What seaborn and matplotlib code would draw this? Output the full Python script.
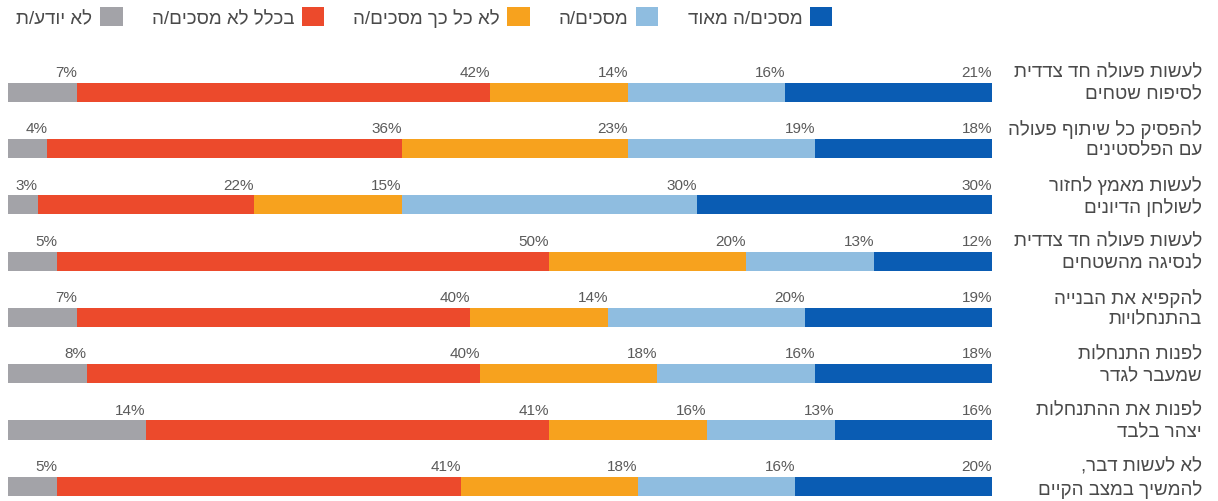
import matplotlib
matplotlib.use('Agg')
import matplotlib.pyplot as plt
from matplotlib.patches import Patch
import pandas as pd
import seaborn as sns

# statements, two lines each (Hebrew, logical order)
line1 = ['לעשות פעולה חד צדדית', 'להפסיק כל שיתוף פעולה', 'לעשות מאמץ לחזור',
         'לעשות פעולה חד צדדית', 'להקפיא את הבנייה', 'לפנות התנחלות',
         'לפנות את ההתנחלות', 'לא לעשות דבר,']
line2 = ['לסיפוח שטחים', 'עם הפלסטינים', 'לשולחן הדיונים', 'לנסיגה מהשטחים',
         'בהתנחלויות', 'שמעבר לגדר', 'יצהר בלבד', 'להמשיך במצב הקיים']

series_names = ['מסכים/ה מאוד', 'מסכים/ה', 'לא כל כך מסכים/ה', 'בכלל לא מסכים/ה', 'לא יודע/ת']
strongly_agree = [21, 18, 30, 12, 19, 18, 16, 20]
agree = [16, 19, 30, 13, 20, 16, 13, 16]
not_really = [14, 23, 15, 20, 14, 18, 16, 18]
strongly_disagree = [42, 36, 22, 50, 40, 40, 41, 41]
dont_know = [7, 4, 3, 5, 7, 8, 14, 5]

colors = ['#0a5cb3', '#8fbde0', '#f7a21e', '#ec4a2c', '#a3a3a8']


def rtl(s):
    # no bidi in matplotlib -> hand it the visual order
    return s[::-1]


sns.set_style('white')
plt.rcParams['font.family'] = ['Liberation Sans', 'DejaVu Sans']

series = [strongly_agree, agree, not_really, strongly_disagree, dont_know]
n = len(line1)
df = pd.DataFrame({'q': [f'q{i}' for i in range(n)]})
cum = [0] * n
starts = []
for name, vals in zip(series_names, series):
    starts.append(cum)
    cum = [c + v for c, v in zip(cum, vals)]
    df[name] = cum

fig = plt.figure(figsize=(12.18, 5.02), dpi=100)
ax = fig.add_axes([8 / 1218, 0, 984 / 1218, 437 / 502])

# layered stacking: widest cumulative bar first
for name, color in reversed(list(zip(series_names, colors))):
    sns.barplot(data=df, y='q', x=name, color=color, orient='h', width=0.34,
                saturation=1, linewidth=0, ax=ax)

ax.set_xlim(100, 0)
ax.set_ylim(7.26, -0.5)
ax.axis('off')

for k, vals in enumerate(series):
    for i, v in enumerate(vals):
        ax.text(starts[k][i], i - 0.36, f'{v}%', ha='right', va='center',
                fontsize=11, color='#5a5a5a')

tr = ax.get_yaxis_transform()
for i in range(n):
    ax.text(1.2135, i - 0.36, rtl(line1[i]), ha='right', va='center',
            fontsize=13.5, color='#4a4a4a', transform=tr)
    ax.text(1.2135, i + 0.03, rtl(line2[i]), ha='right', va='center',
            fontsize=13.5, color='#4a4a4a', transform=tr)

handles = [Patch(facecolor=c, edgecolor='none') for c in colors][::-1]
labels = [rtl(s) for s in series_names][::-1]
fig.legend(handles, labels, loc='center right', bbox_to_anchor=(849 / 1218, 1 - 18 / 502),
           ncol=5, frameon=False, markerfirst=False, fontsize=13.5,
           handlelength=1.2, handleheight=1.2, handletextpad=0.4,
           columnspacing=1.55, labelcolor='#4a4a4a')

fig.savefig('out.png', dpi=100)
